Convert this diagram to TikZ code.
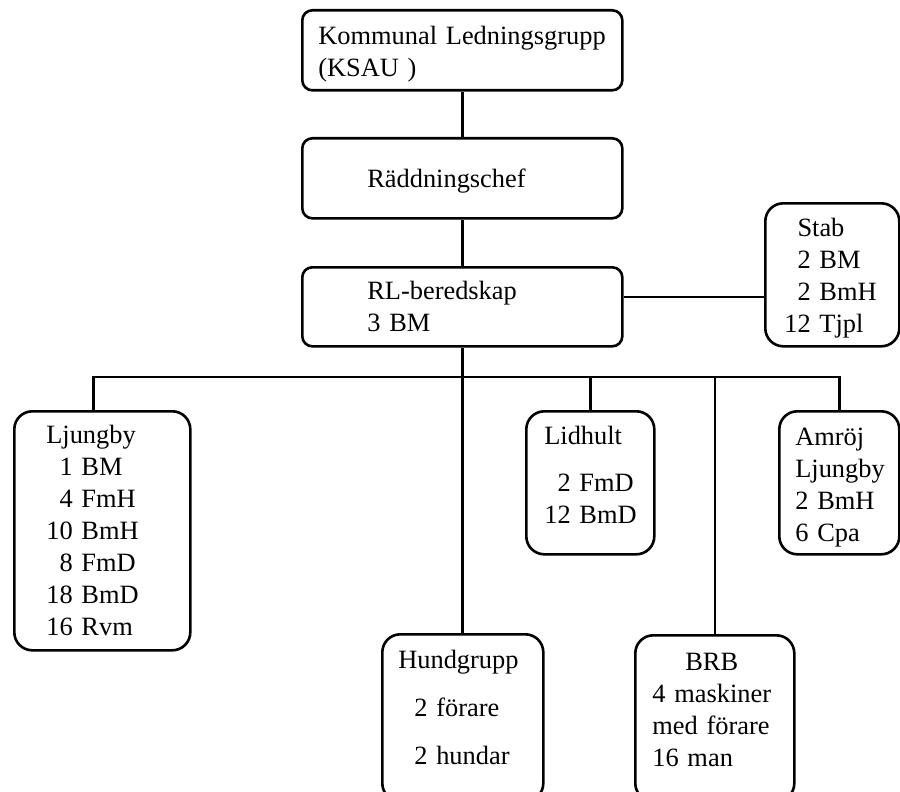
\documentclass[tikz,border=0pt]{standalone}
\usepackage{fontspec}
\setmainfont{Liberation Serif}
\tikzset{
  orgbox/.style={draw, line width=1.3pt, rounded corners=9pt, anchor=north west,
    align=left, inner ysep=0pt, font=\fontsize{13.2pt}{16pt}\selectfont},
  topbox/.style={orgbox, rounded corners=5pt},
  link/.style={line width=1.3pt}
}
\begin{document}
\begin{tikzpicture}[x=0.5pt, y=-0.5pt]
  \clip (0,0) rectangle (900,792);
  % ledning
  \node[topbox, inner xsep=8pt, text width=144pt, text height=17pt, text depth=23pt]
    (klg) at (301,9) {Kommunal Ledningsgrupp\\(KSAU )};
  \node[topbox, inner xsep=32.5pt, text width=95pt, text height=24.5pt, text depth=15.5pt]
    (chef) at (301,137) {Räddningschef};
  \node[topbox, inner xsep=32.5pt, text width=95pt, text height=16pt, text depth=23.5pt]
    (rl) at (301,266) {RL-beredskap\\3 BM};
  \node[orgbox, inner xsep=9.5pt, text width=48pt, text height=16.5pt, text depth=55pt]
    (stab) at (764,202) {\phantom{1}Stab\\\phantom{1}2 BM\\\phantom{1}2 BmH\\12~Tjpl};
  % enheter
  \node[orgbox, inner xsep=16pt, text width=56pt, text height=16pt, text depth=103.5pt]
    (lj) at (13,410) {Ljungby\\\phantom{1}1 BM\\\phantom{1}4 FmH\\10 BmH\\\phantom{1}8 FmD\\18 BmD\\16 Rvm};
  \node[orgbox, inner xsep=9pt, text width=46pt, text height=16.5pt, text depth=55pt]
    (lid) at (525,410) {Lidhult\\[7.5pt]\phantom{1}2~FmD\\12~BmD};
  \node[orgbox, inner xsep=8pt, text width=44pt, text height=17pt, text depth=54.5pt]
    (am) at (778,410) {Amröj\\Ljungby\\2~BmH\\6~Cpa};
  \node[orgbox, inner xsep=8pt, text width=64.5pt, text height=17pt, text depth=66.5pt]
    (hund) at (381,633) {Hundgrupp\\[8pt]\hspace*{8pt}2 förare\\[8pt]\hspace*{8pt}2 hundar};
  \node[orgbox, inner xsep=8.5pt, text width=62.5pt, text height=17.5pt, text depth=65.5pt]
    (brb) at (634,634) {\hspace*{16.5pt}BRB\\4 maskiner\\med förare\\16 man};
  % linjer
  \coordinate (bus) at (461,377);
  \coordinate (stabline) at (700,297);
  \draw[link] (klg) -- (chef);
  \draw[link] (chef) -- (rl);
  \draw[link] (rl.east |- stabline) -- (stab.west |- stabline);
  \draw[link] (rl.south) -- (rl.south |- hund.north);
  \draw[link] ([xshift=-4.5pt]lj.north) |- (bus) -| (am.north);
  \draw[link] (lid.north) -- (lid.north |- bus);
  \draw[link] (brb.north) -- (brb.north |- bus);
\end{tikzpicture}
\end{document}
